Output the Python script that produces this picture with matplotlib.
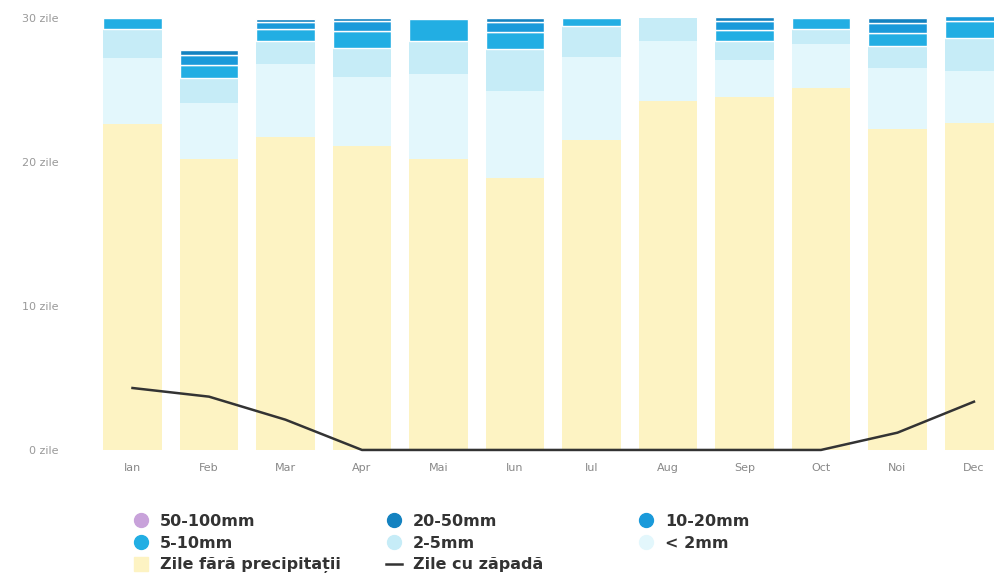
import numpy as np
import matplotlib.pyplot as plt
from matplotlib.lines import Line2D

months = ['Ian', 'Feb', 'Mar', 'Apr', 'Mai', 'Iun', 'Iul', 'Aug', 'Sep', 'Oct', 'Noi', 'Dec']

# days per month in each precipitation class
dry = [22.6, 20.2, 21.7, 21.1, 20.2, 18.9, 21.5, 24.2, 24.5, 25.1, 22.3, 22.7]
lt2 = [4.6, 3.9, 5.1, 4.8, 5.9, 6.0, 5.8, 4.2, 2.55, 3.1, 4.2, 3.6]
p2_5 = [2.0, 1.75, 1.6, 2.0, 2.3, 2.9, 2.1, 1.6, 1.3, 1.0, 1.55, 2.3]
p5_10 = [0.8, 0.85, 0.8, 1.2, 1.5, 1.2, 0.6, 0.0, 0.8, 0.8, 0.9, 1.15]
p10_20 = [0.0, 0.7, 0.5, 0.7, 0.0, 0.7, 0.0, 0.0, 0.6, 0.0, 0.7, 0.35]
p20_50 = [0.0, 0.35, 0.2, 0.2, 0.0, 0.25, 0.0, 0.0, 0.3, 0.0, 0.35, 0.0]
p50_100 = [0.0] * 12
snow = [4.3, 3.7, 2.1, 0, 0, 0, 0, 0, 0, 0, 1.2, 3.35]

y_ticks = [0, 10, 20, 30]
y_labels = ['0 zile', '10 zile', '20 zile', '30 zile']

c_dry = '#FDF3C3'
c_lt2 = '#E3F7FC'
c_2_5 = '#C6ECF7'
c_5_10 = '#22AEE3'
c_10_20 = '#1A9ADA'
c_20_50 = '#1482C0'
c_50_100 = '#C8A2DA'

fig = plt.figure(figsize=(9.95, 5.8), dpi=100)
ax = fig.add_axes([70 / 995, 125 / 580, 925 / 995, 455 / 580])

x = np.arange(12)
w = 0.77
layers = [(dry, c_dry, False), (lt2, c_lt2, False), (p2_5, c_2_5, False),
          (p5_10, c_5_10, True), (p10_20, c_10_20, True),
          (p20_50, c_20_50, True), (p50_100, c_50_100, True)]
bottom = np.zeros(12)
for vals, col, edged in layers:
    vals = np.array(vals)
    lw = np.where(vals > 0, 1.0, 0.0) if edged else 0
    ax.bar(x, vals, w, bottom=bottom, color=col, edgecolor='white', linewidth=lw)
    bottom += vals

ax.plot(x, snow, color='#333333', lw=1.8, zorder=5)

ax.set_xlim(-0.817, 11.275)
ax.set_ylim(-0.35, 31.23)
ax.set_xticks(x)
ax.set_xticklabels(months, fontsize=8, color='#888888')
ax.set_yticks(y_ticks)
ax.set_yticklabels(y_labels, fontsize=8, color='#999999')
ax.tick_params(length=0, axis='x', pad=6)
ax.tick_params(length=0, axis='y', pad=8)
for s in ax.spines.values():
    s.set_visible(False)

# legend, three columns
def dot(c):
    return Line2D([], [], marker='o', ls='', markersize=10, markerfacecolor=c, markeredgecolor=c)

cols = [
    ([dot(c_50_100), dot(c_5_10), Line2D([], [], marker='s', ls='', markersize=10,
                                         markerfacecolor=c_dry, markeredgecolor=c_dry)],
     ['50-100mm', '5-10mm', 'Zile fără precipitații'], 133),
    ([dot(c_20_50), dot(c_2_5), Line2D([], [], color='#333333', lw=1.8)],
     ['20-50mm', '2-5mm', 'Zile cu zăpadă'], 386),
    ([dot(c_10_20), dot(c_lt2)], ['10-20mm', '< 2mm'], 638),
]
for handles, labels, px in cols:
    fig.legend(handles, labels, loc='upper left', bbox_to_anchor=(px / 995, 1 - 514 / 580),
               frameon=False, handlelength=1.0, handletextpad=0.7, labelspacing=0.42,
               borderaxespad=0, borderpad=0,
               prop={'size': 11.5, 'weight': 'bold'}, labelcolor='#333333')

fig.savefig('out.png', dpi=100)
